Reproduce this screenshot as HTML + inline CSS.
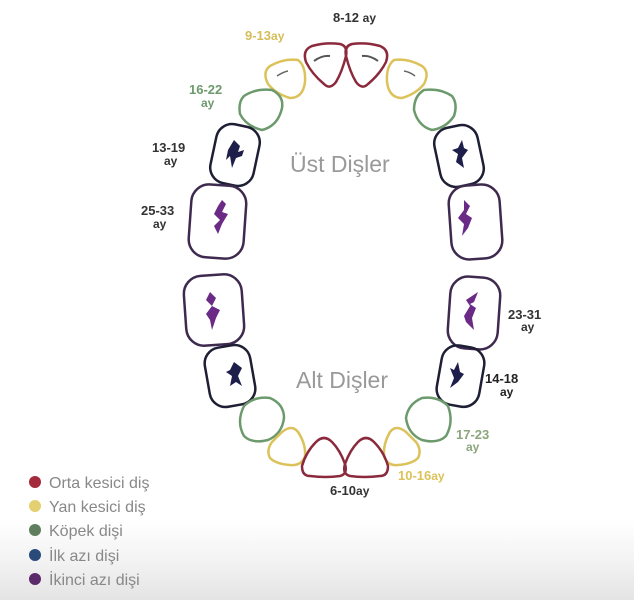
<!DOCTYPE html>
<html><head><meta charset="utf-8"><style>
html,body{margin:0;padding:0;background:#fff}
body{width:634px;height:600px;overflow:hidden;background:linear-gradient(#fff 0,#fff 520px,#f3f3f3 560px,#e4e4e4 600px)}
text{font-family:"Liberation Sans",sans-serif}
</style></head><body>
<svg width="634" height="600" viewBox="0 0 634 600" xmlns="http://www.w3.org/2000/svg">
<g fill="none" stroke-width="2.5" stroke-linejoin="round">
<!-- upper central -->
<path d="M312 46 Q326 42 340 44 Q348 46 346 56 Q342 72 336 82 Q330 90 324 84 Q312 74 306 62 Q302 50 312 46Z" stroke="#8a2a3c"/>
<path d="M380 46 Q366 42 352 44 Q344 46 346 56 Q350 72 356 82 Q362 90 368 84 Q380 74 386 62 Q390 50 380 46Z" stroke="#8a2a3c"/>
<path d="M314 61 Q322 55 330 56" stroke="#555" stroke-width="2"/>
<path d="M362 56 Q370 55 378 61" stroke="#555" stroke-width="2"/>
<!-- upper lateral -->
<path d="M270 66 Q284 58 298 60 Q306 66 305 82 Q303 98 290 98 Q276 94 268 84 Q262 72 270 66Z" stroke="#dcc25a"/>
<path d="M422 66 Q408 58 394 60 Q386 66 387 82 Q389 98 402 98 Q416 94 424 84 Q430 72 422 66Z" stroke="#dcc25a"/>
<path d="M277 76 Q283 72 288 71" stroke="#666" stroke-width="1.5"/>
<path d="M404 71 Q410 72 415 76" stroke="#666" stroke-width="1.5"/>
<!-- upper canines -->
<path d="M244 96 Q256 88 272 90 Q284 96 282 108 Q278 126 262 130 Q246 126 240 114 Q238 102 244 96Z" stroke="#6c9a6c"/>
<path d="M424 90 Q440 88 452 96 Q458 104 454 116 Q446 128 432 130 Q418 126 414 110 Q414 96 424 90Z" stroke="#6c9a6c"/>
<!-- upper first molars -->
<rect x="213" y="125" width="44" height="60" rx="16" transform="rotate(12 235 155)" stroke="#1e1e34"/>
<rect x="437" y="126" width="44" height="60" rx="16" transform="rotate(-12 459 156)" stroke="#1e1e34"/>
<!-- upper second molars -->
<rect x="190" y="185" width="55" height="73" rx="18" transform="rotate(4 217 221)" stroke="#3e2a4e"/>
<rect x="450" y="185" width="51" height="74" rx="18" transform="rotate(-4 475 222)" stroke="#3e2a4e"/>
<!-- lower second molars -->
<rect x="185" y="275" width="58" height="70" rx="18" transform="rotate(-4 214 310)" stroke="#3e2a4e"/>
<rect x="449" y="277" width="50" height="72" rx="18" transform="rotate(4 474 313)" stroke="#3e2a4e"/>
<!-- lower first molars -->
<rect x="207" y="346" width="46" height="60" rx="16" transform="rotate(-10 230 376)" stroke="#1e1e34"/>
<rect x="439" y="346" width="43" height="60" rx="16" transform="rotate(10 460 376)" stroke="#1e1e34"/>
<!-- lower canines -->
<path d="M244 406 Q254 396 270 398 Q284 404 284 418 Q282 434 268 440 Q252 444 244 436 Q236 422 244 406Z" stroke="#6c9a6c"/>
<path d="M448 406 Q438 396 422 398 Q408 404 406 418 Q408 434 422 440 Q438 444 446 436 Q454 422 448 406Z" stroke="#6c9a6c"/>
<!-- lower lateral -->
<path d="M282 432 Q292 424 298 432 Q306 444 305 456 Q302 466 290 465 Q276 464 270 458 Q266 450 272 442 Z" stroke="#dcc25a"/>
<path d="M406 432 Q396 424 390 432 Q383 444 384 456 Q387 466 398 465 Q412 464 418 458 Q422 450 416 442 Z" stroke="#dcc25a"/>
<!-- lower central -->
<path d="M310 476 Q326 478 340 476 Q348 474 345 464 Q340 450 332 442 Q324 434 316 442 Q306 452 302 466 Q302 476 310 476Z" stroke="#8a2a3c"/>
<path d="M380 476 Q364 478 350 476 Q342 474 345 464 Q350 450 358 442 Q366 434 374 442 Q384 452 388 466 Q388 476 380 476Z" stroke="#8a2a3c"/>
</g>
<!-- molar marks -->
<g fill="#1e1e4a">
<path d="M234 140 L240 146 L238 152 L244 150 L242 156 L236 158 L232 168 L230 156 L226 160 L228 150 Z"/>
<path d="M462 140 L458 148 L452 150 L458 154 L456 162 L464 168 L462 158 L468 150 L464 148 Z"/>
<path d="M234 362 L230 370 L226 372 L232 376 L230 386 L236 382 L242 386 L238 376 L242 368 Z"/>
<path d="M458 362 L454 370 L450 368 L454 378 L450 388 L458 382 L464 374 L460 372 Z"/>
</g>
<g fill="#6a2a86">
<path d="M222 200 L226 204 L222 212 L228 214 L222 224 L218 234 L214 226 L220 220 L214 214 L218 206 Z"/>
<path d="M464 200 L470 206 L466 214 L472 218 L468 228 L462 236 L464 224 L458 218 L464 210 Z"/>
<path d="M210 292 L216 298 L212 306 L220 310 L216 318 L212 330 L210 320 L206 314 L212 306 L206 300 Z"/>
<path d="M478 292 L474 302 L470 304 L476 308 L472 318 L474 330 L466 322 L464 316 L470 306 L466 300 Z"/>
</g>
<!-- labels -->
<g font-weight="bold" font-size="13">
<text x="333" y="22" fill="#333">8-12 <tspan font-size="12">ay</tspan></text>
<text x="245" y="40" fill="#d4bd5a">9-13<tspan font-size="12">ay</tspan></text>
<text x="189" y="94" fill="#6c9a6c">16-22</text>
<text x="201" y="107" fill="#6c9a6c" font-size="12">ay</text>
<text x="152" y="152" fill="#333">13-19</text>
<text x="164" y="165" fill="#333" font-size="12">ay</text>
<text x="141" y="215" fill="#333">25-33</text>
<text x="153" y="228" fill="#333" font-size="12">ay</text>
<text x="508" y="319" fill="#333">23-31</text>
<text x="521" y="331" fill="#333" font-size="12">ay</text>
<text x="485" y="383" fill="#222">14-18</text>
<text x="500" y="396" fill="#222" font-size="12">ay</text>
<text x="456" y="439" fill="#8aa67a">17-23</text>
<text x="466" y="451" fill="#8aa67a" font-size="12">ay</text>
<text x="398" y="480" fill="#dcc25a">10-16<tspan font-size="12">ay</tspan></text>
<text x="330" y="495" fill="#333">6-10<tspan font-size="12">ay</tspan></text>
</g>
<text x="290" y="172" font-size="23" fill="#999">Üst Dişler</text>
<text x="296" y="388" font-size="23" fill="#999">Alt Dişler</text>
<!-- legend -->
<g font-size="16" fill="#888">
<circle cx="35" cy="482" r="6" fill="#a42a3c"/><text x="49" y="488">Orta kesici diş</text>
<circle cx="35" cy="506" r="6" fill="#e4d070"/><text x="49" y="512">Yan kesici diş</text>
<circle cx="35" cy="530" r="6" fill="#5e7e5e"/><text x="49" y="536">Köpek dişi</text>
<circle cx="35" cy="555" r="6" fill="#2a4a7a"/><text x="49" y="561">İlk azı dişi</text>
<circle cx="35" cy="579" r="6" fill="#5a2a6a"/><text x="49" y="585">İkinci azı dişi</text>
</g>
</svg>
</body></html>
